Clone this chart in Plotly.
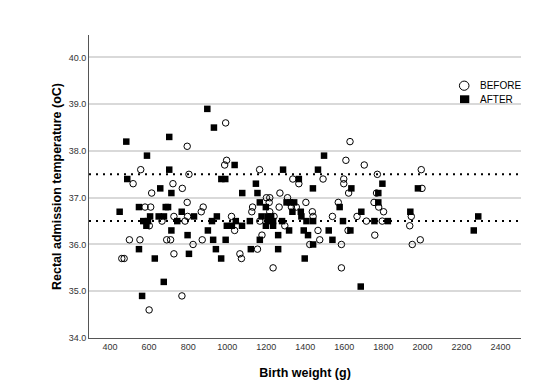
import plotly.graph_objects as go

before_weight = [992, 795, 997, 987, 557, 804, 518, 722, 770, 613, 795, 579, 608, 877, 867, 727, 797, 1022,
                 666, 784, 601, 1038, 499, 553, 690, 710, 872, 825, 727, 460, 472, 768, 600,
                 1629, 1608, 1702, 1166, 1769, 1336, 1367, 1491, 1597, 1597, 1622, 1270, 1201, 1218, 1309,
                 1403, 1569, 1752, 1215, 1130, 1329, 1354, 1126, 1240, 1436, 1440, 1539, 1665, 1776, 1167,
                 1713, 1295, 1465, 1619, 1756, 1178, 1474, 1423, 1585, 1155, 1065, 1073, 1235, 1585,
                 1994, 1765, 1998, 1801, 1794, 1943, 1935, 1948, 1989, 1266, 1218]
before_temp = [38.6, 38.1, 37.8, 37.7, 37.6, 37.5, 37.3, 37.3, 37.2, 37.1, 36.9, 36.8, 36.8, 36.8, 36.7, 36.6, 36.6, 36.6,
               36.5, 36.5, 36.4, 36.3, 36.1, 36.1, 36.1, 36.1, 36.1, 36.0, 35.8, 35.7, 35.7, 34.9, 34.6,
               38.2, 37.8, 37.7, 37.6, 37.5, 37.4, 37.3, 37.4, 37.4, 37.3, 37.1, 37.1, 37.0, 37.0, 37.0,
               36.9, 36.9, 36.9, 36.9, 36.8, 36.8, 36.8, 36.7, 36.6, 36.7, 36.6, 36.6, 36.6, 36.8, 36.5,
               36.5, 36.4, 36.3, 36.3, 36.2, 36.2, 36.1, 36.0, 36.0, 35.9, 35.8, 35.7, 35.5, 35.5,
               37.6, 37.1, 37.2, 36.7, 36.5, 36.6, 36.4, 36.0, 36.1, 36.8, 36.7]

after_weight = [898, 932, 483, 703, 589, 1038, 703, 488, 970, 990, 657, 714, 548, 685, 697, 449, 767, 605, 649, 676,
                830, 947, 570, 594, 744, 922, 1044, 586, 998, 1024, 714, 797, 901, 928, 992, 548, 942, 804, 629,
                969, 675, 564,
                1496, 1286, 1465, 1367, 1147, 1439, 1636, 1077, 1155, 1774, 1167, 1304, 1321, 1343, 1774, 1576,
                1198, 1334, 1377, 1687, 1176, 1208, 1225, 1380, 1116, 1209, 1235, 1281, 1406, 1440, 1593, 1754,
                1076, 1198, 1235, 1317, 1392, 1414, 1520, 1631, 1261, 1167, 1539, 1440, 1121, 1261, 1397, 1684,
                1795, 1977, 1823, 1938, 2286, 2263]
after_temp = [38.9, 38.5, 38.2, 38.3, 37.9, 37.7, 37.6, 37.4, 37.4, 37.4, 37.2, 37.1, 36.8, 36.8, 36.8, 36.7, 36.7, 36.6, 36.6, 36.6,
              36.6, 36.6, 36.5, 36.5, 36.5, 36.5, 36.5, 36.4, 36.4, 36.4, 36.3, 36.2, 36.3, 36.1, 36.1, 35.9, 35.9, 35.8, 35.7,
              35.7, 35.2, 34.9,
              37.9, 37.6, 37.6, 37.4, 37.3, 37.2, 37.2, 37.1, 37.1, 37.1, 36.9, 36.9, 36.9, 36.9, 36.9, 36.8,
              36.8, 36.7, 36.7, 36.7, 36.6, 36.6, 36.6, 36.6, 36.5, 36.5, 36.5, 36.5, 36.5, 36.5, 36.5, 36.5,
              36.4, 36.4, 36.4, 36.3, 36.3, 36.2, 36.3, 36.3, 36.2, 36.1, 36.1, 36.0, 35.9, 35.9, 35.7, 35.1,
              37.3, 37.2, 36.5, 36.7, 36.6, 36.3]

series_names = ["BEFORE", "AFTER"]
ref_lines = [37.5, 36.5]
x_ticks = [400, 600, 800, 1000, 1200, 1400, 1600, 1800, 2000, 2200, 2400]
y_ticks = [34.0, 35.0, 36.0, 37.0, 38.0, 39.0, 40.0]

fig = go.Figure()
fig.add_trace(go.Scatter(x=before_weight, y=before_temp, mode="markers", name=series_names[0],
                         marker=dict(symbol="circle-open", size=6.5, color="black", line=dict(width=1))))
fig.add_trace(go.Scatter(x=after_weight, y=after_temp, mode="markers", name=series_names[1],
                         marker=dict(symbol="square", size=6.5, color="black")))

for v in ref_lines:
    fig.add_shape(type="line", xref="paper", x0=0, x1=1, yref="y", y0=v, y1=v,
                  line=dict(color="black", width=2, dash="2px,5px"), layer="below")

# compact legend (drawn manually to match the tight SPSS-style legend)
fig.add_shape(type="circle", xref="paper", yref="paper", x0=0.8574, x1=0.8796, y0=0.8175, y1=0.8479,
              line=dict(color="black", width=1), fillcolor="white")
fig.add_shape(type="rect", xref="paper", yref="paper", x0=0.8588, x1=0.8803, y0=0.7751, y1=0.8010,
              line=dict(color="black", width=0), fillcolor="black")
fig.add_annotation(x=0.9005, y=0.8327, xref="paper", yref="paper", text=series_names[0], showarrow=False,
                   xanchor="left", yanchor="middle", font=dict(size=10, color="black"))
fig.add_annotation(x=0.9005, y=0.7880, xref="paper", yref="paper", text=series_names[1], showarrow=False,
                   xanchor="left", yanchor="middle", font=dict(size=10, color="black"))

font_family = "Liberation Sans, Arial, sans-serif"
fig.update_layout(
    width=544, height=382,
    margin=dict(l=81, r=31, t=27, b=46),
    paper_bgcolor="white", plot_bgcolor="white",
    font=dict(family=font_family, size=9, color="#333"),
    showlegend=False,
    xaxis=dict(range=[292, 2505], tickvals=x_ticks, ticktext=[str(t) for t in x_ticks],
               showgrid=False, zeroline=False, showline=True, linecolor="#555", linewidth=1,
               ticks="", tickfont=dict(size=9, color="#333"),
               title=dict(text="<b>Birth weight (g)</b>", font=dict(size=12.5, color="black"), standoff=17)),
    yaxis=dict(range=[34.0, 40.48], tickvals=y_ticks, ticktext=[f"{t:.1f}" for t in y_ticks],
               showgrid=True, gridcolor="#d9d9d9", gridwidth=1.5, zeroline=False,
               showline=True, linecolor="#555", linewidth=1, ticks="",
               tickfont=dict(size=9, color="#333"),
               title=dict(text="<b>Rectal admission temperature (oC)</b>", font=dict(size=12.5, color="black"), standoff=4)),
)

fig.write_html("out.html")
